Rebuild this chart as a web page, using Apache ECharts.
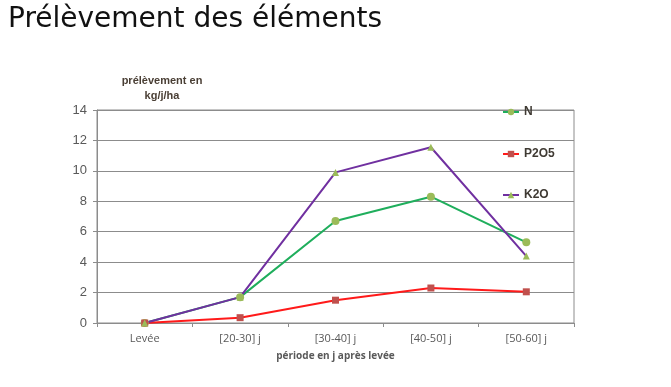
<!DOCTYPE html>
<html>
<head>
<meta charset="utf-8">
<script src="https://cdn.jsdelivr.net/npm/echarts@6/dist/echarts.min.js"></script>
<style>html,body{margin:0;padding:0;background:#fff;}#c{width:671px;height:387px;}</style>
</head>
<body>
<div id="c"></div>
<script>
const categories = ['Levée', '[20-30] j', '[30-40] j', '[40-50] j', '[50-60] j'];
const nValues = [0, 1.7, 6.7, 8.3, 5.3];
const p2o5Values = [0, 0.35, 1.5, 2.3, 2.05];
const k2oValues = [0, 1.7, 9.9, 11.55, 4.4];
const yTicks = [0, 2, 4, 6, 8, 10, 12, 14];

const chart = echarts.init(document.getElementById('c'));
const legendText = {fontFamily: 'Liberation Sans, Arial', fontWeight: 'bold', fontSize: 12, color: '#3f3a33'};
chart.setOption({
  animation: false,
  title: {
    text: 'Prélèvement des éléments',
    left: 3, top: 1,
    textStyle: {fontFamily: 'DejaVu Sans', fontWeight: 'normal', fontSize: 28, color: '#111'}
  },
  legend: [
    {data: ['N'], left: 497, top: 101, itemWidth: 16, itemHeight: 8, itemGap: 2, textStyle: legendText},
    {data: ['P2O5'], left: 497, top: 143, itemWidth: 16, itemHeight: 8, itemGap: 2, textStyle: legendText},
    {data: ['K2O'], left: 497, top: 184, itemWidth: 16, itemHeight: 8, itemGap: 2, textStyle: legendText}
  ],
  grid: {left: 97, right: 97, top: 110, bottom: 64, containLabel: false, outerBoundsMode: 'none',
    show: true, borderColor: '#8c8c8c', borderWidth: 1},
  xAxis: {
    type: 'category',
    data: categories,
    boundaryGap: true,
    name: 'période en j après levée',
    nameLocation: 'middle',
    nameGap: 28,
    nameTextStyle: {fontFamily: 'Open Sans', fontWeight: 'bold', fontSize: 10, color: '#595959'},
    axisLine: {lineStyle: {color: '#8c8c8c', width: 1}},
    axisTick: {show: true, length: 4, lineStyle: {color: '#8c8c8c'}},
    axisLabel: {fontFamily: 'Open Sans', fontSize: 11, color: '#595959', margin: 10}
  },
  yAxis: {
    type: 'value',
    min: 0, max: 14, interval: 2,
    name: 'prélèvement en\nkg/j/ha',
    nameLocation: 'end',
    nameGap: 1,
    nameTextStyle: {fontFamily: 'Liberation Sans, Arial', fontWeight: 'bold', fontSize: 11, color: '#4a3f35', align: 'center', padding: [0, 0, 0, 130], lineHeight: 15},
    axisLine: {show: true, lineStyle: {color: '#8c8c8c', width: 1}},
    axisTick: {show: true, length: 4, lineStyle: {color: '#8c8c8c'}},
    axisLabel: {fontFamily: 'Liberation Sans, Arial', fontSize: 13, color: '#595959', margin: 10,
      formatter: v => yTicks.includes(v) ? String(v) : ''},
    splitLine: {lineStyle: {color: '#8c8c8c', width: 1}}
  },
  series: [
    {name: 'N', type: 'line', data: nValues, symbol: 'circle', symbolSize: 8,
      lineStyle: {color: '#1fae5c', width: 2}, itemStyle: {color: '#9bbb59'}},
    {name: 'P2O5', type: 'line', data: p2o5Values, symbol: 'rect', symbolSize: 7,
      lineStyle: {color: '#ff1a1a', width: 2}, itemStyle: {color: '#c0504d'}},
    {name: 'K2O', type: 'line', data: k2oValues, symbol: 'triangle', symbolSize: 7,
      lineStyle: {color: '#7030a0', width: 2}, itemStyle: {color: '#9bbb59'}}
  ]
});
</script>
</body>
</html>
